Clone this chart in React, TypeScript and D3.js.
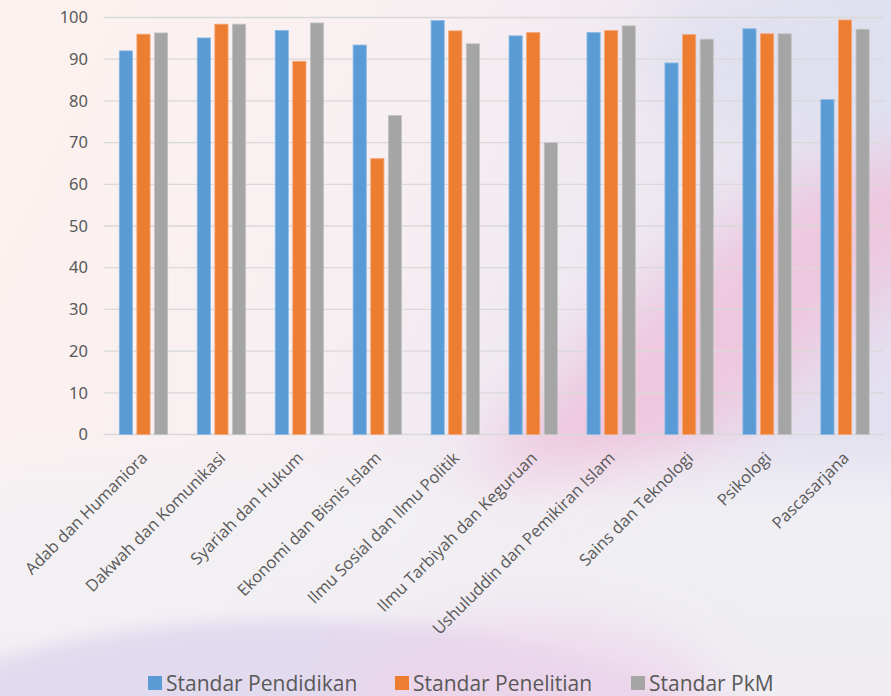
import React from "react";
import * as d3 from "d3";

const categories = [
  "Adab dan Humaniora",
  "Dakwah dan Komunikasi",
  "Syariah dan Hukum",
  "Ekonomi dan Bisnis Islam",
  "Ilmu Sosial dan Ilmu Politik",
  "Ilmu Tarbiyah dan Keguruan",
  "Ushuluddin dan Pemikiran Islam",
  "Sains dan Teknologi",
  "Psikologi",
  "Pascasarjana",
];
const seriesNames = ["Standar Pendidikan", "Standar Penelitian", "Standar PkM"];
const pendidikan = [92.0, 95.1, 96.9, 93.4, 99.3, 95.6, 96.4, 89.1, 97.3, 80.3];
const penelitian = [96.0, 98.4, 89.5, 66.2, 96.8, 96.4, 96.9, 95.9, 96.1, 99.4];
const pkm = [96.3, 98.4, 98.7, 76.5, 93.7, 70.0, 98.0, 94.8, 96.1, 97.2];
const yTicks = [0, 10, 20, 30, 40, 50, 60, 70, 80, 90, 100];
const colors = ["#5b9bd5", "#ed7d31", "#a5a5a5"];
const strokes = ["#8cbbe6", "#f4a77a", "#c4c4c4"];

const W = 891;
const H = 696;

export default function App() {
  const seriesValues = [pendidikan, penelitian, pkm];
  const x0 = d3.scaleBand<string>().domain(categories).range([104.5, 884]).padding(0);
  const y = d3.scaleLinear().domain([0, 100]).range([434.5, 17.5]);
  const groupW = 48.4;
  const x1 = d3
    .scaleBand<string>()
    .domain(seriesNames)
    .range([-groupW / 2, groupW / 2])
    .paddingInner(0.25)
    .paddingOuter(0);

  const legendX = [148, 395, 631];

  return (
    <svg
      width={W}
      height={H}
      style={{ position: "absolute", left: 0, top: 0, display: "block" }}
    >
      <defs>
        <linearGradient id="bg" x1="0" y1="0" x2="1" y2="0.35">
          <stop offset="0" stopColor="#fdf2ee" />
          <stop offset="0.45" stopColor="#f8eff2" />
          <stop offset="1" stopColor="#e3e0ef" />
        </linearGradient>
        <linearGradient id="bot" x1="0" y1="0" x2="0" y2="1">
          <stop offset="0" stopColor="#f2f1f4" stopOpacity="0" />
          <stop offset="0.3" stopColor="#f2f1f4" stopOpacity="0.85" />
          <stop offset="1" stopColor="#f1eff3" stopOpacity="0.9" />
        </linearGradient>
        <filter id="blur" x="-50%" y="-50%" width="200%" height="200%">
          <feGaussianBlur stdDeviation="30" />
        </filter>
        <filter id="blur2" x="-50%" y="-50%" width="200%" height="200%">
          <feGaussianBlur stdDeviation="8" />
        </filter>
      </defs>
      <rect x={0} y={0} width={W} height={H} fill="url(#bg)" />
      {/* pink diagonal band */}
      <ellipse
        cx={740}
        cy={320}
        rx={340}
        ry={80}
        fill="#eec6de"
        opacity={0.95}
        transform="rotate(-38 740 320)"
        filter="url(#blur)"
      />
      <ellipse
        cx={880}
        cy={60}
        rx={240}
        ry={90}
        fill="#dfe0ef"
        opacity={0.9}
        filter="url(#blur)"
      />
      <rect x={0} y={430} width={W} height={266} fill="url(#bot)" />
      {/* lavender swoosh bottom-left */}
      <ellipse
        cx={290}
        cy={770}
        rx={430}
        ry={150}
        fill="#e2d9ee"
        opacity={0.95}
        filter="url(#blur2)"
      />
      <ellipse
        cx={530}
        cy={710}
        rx={190}
        ry={90}
        fill="#edd5ea"
        opacity={0.85}
        filter="url(#blur)"
      />

      {/* gridlines */}
      {yTicks.map((t) => (
        <line
          key={t}
          x1={103.5}
          x2={884}
          y1={y(t)}
          y2={y(t)}
          stroke="#d9d9d9"
          strokeWidth={1.3}
        />
      ))}
      {/* y tick labels */}
      {yTicks.map((t) => (
        <text
          key={"l" + t}
          x={88}
          y={y(t)}
          dy="0.35em"
          textAnchor="end"
          fontFamily="'Noto Sans', sans-serif"
          fontSize={16.5}
          fill="#595959"
        >
          {t}
        </text>
      ))}

      {/* bars */}
      {categories.map((c, i) => {
        const cx = (x0(c) as number) + x0.bandwidth() / 2;
        return (
          <g key={c}>
            {seriesNames.map((s, j) => {
              const v = seriesValues[j][i];
              return (
                <rect
                  key={s}
                  x={cx + (x1(s) as number)}
                  y={y(v)}
                  width={x1.bandwidth()}
                  height={y(0) - y(v)}
                  fill={colors[j]}
                  stroke={strokes[j]}
                  strokeWidth={0.8}
                />
              );
            })}
          </g>
        );
      })}

      {/* x labels */}
      {categories.map((c) => {
        const cx = (x0(c) as number) + x0.bandwidth() / 2;
        return (
          <text
            key={"x" + c}
            transform={`translate(${cx + 5},${459}) rotate(-45)`}
            textAnchor="end"
            fontFamily="'Open Sans', sans-serif"
            fontSize={16.5}
            fill="#595959"
          >
            {c}
          </text>
        );
      })}

      {/* legend */}
      {seriesNames.map((s, j) => (
        <g key={"lg" + s}>
          <rect x={legendX[j]} y={676} width={14} height={14} fill={colors[j]} />
          <text
            x={legendX[j] + 18}
            y={683}
            dy="0.36em"
            fontFamily="'Open Sans', sans-serif"
            fontSize={21}
            fill="#595959"
          >
            {s}
          </text>
        </g>
      ))}
    </svg>
  );
}
